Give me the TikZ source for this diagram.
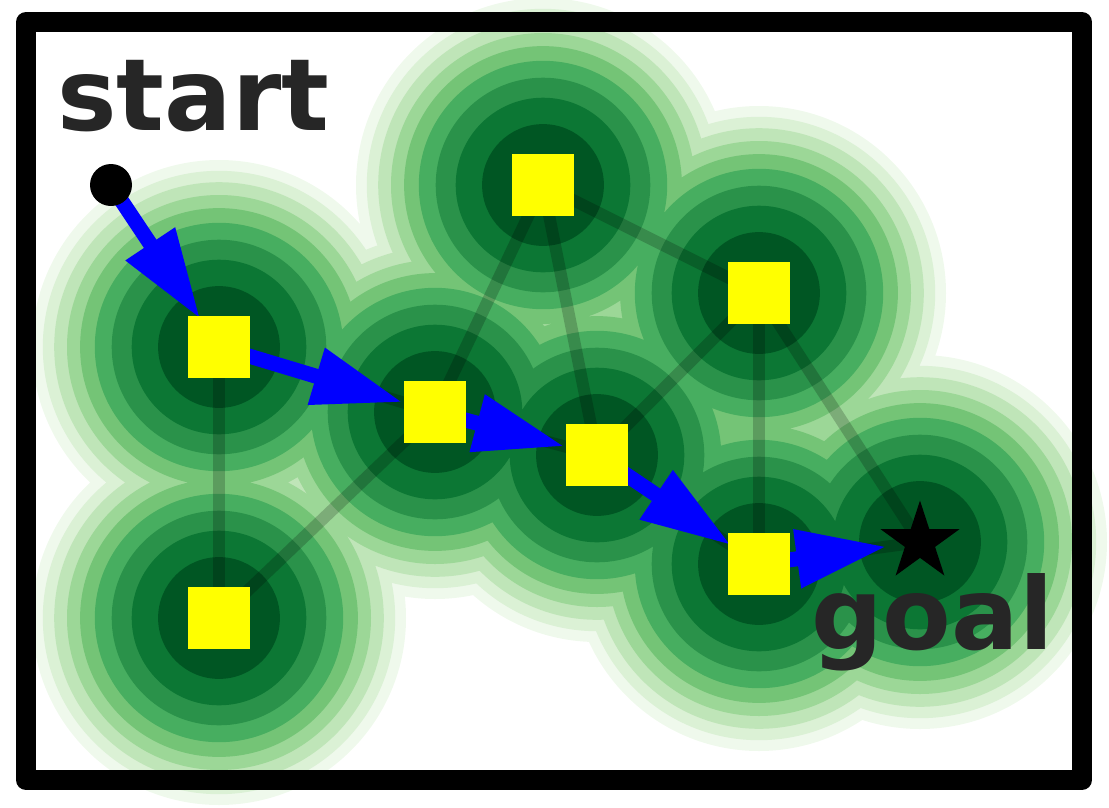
\documentclass[tikz,border=0pt]{standalone}
\usepackage{fontspec}
\setmainfont{DejaVu Sans}
\usetikzlibrary{calc}
\definecolor{gA}{HTML}{005623}
\definecolor{gB}{HTML}{0C7734}
\definecolor{gC}{HTML}{2A924A}
\definecolor{gD}{HTML}{47AE60}
\definecolor{gE}{HTML}{74C476}
\definecolor{gF}{HTML}{9CD797}
\definecolor{gG}{HTML}{BFE5B8}
\definecolor{gH}{HTML}{DBF1D5}
\definecolor{gI}{HTML}{EFF9EC}
\definecolor{txt}{HTML}{262626}
\definecolor{sqyellow}{RGB}{255,255,0}
\definecolor{arrblue}{RGB}{0,0,255}
\newcommand\bluearrow[2]{%
  \coordinate (T) at ($(#2)!36pt!(#1)$);
  \coordinate (H) at ($(T)!88pt!(#1)$);
  \coordinate (Hs) at ($(T)!86pt!(#1)$);
  \draw[arrowshaft] (#1) -- (Hs);
  \fill[arrblue] (T) -- ($(H)!30pt!90:(T)$) -- ($(H)!30pt!-90:(T)$) -- cycle;
}
\tikzset{
  edgeline/.style={line width=12pt, draw=black, draw opacity=0.2},
  arrowshaft/.style={line width=15pt, draw=arrblue},
  sq/.style={fill=sqyellow, minimum size=62pt, inner sep=0pt, outer sep=0pt},
  lbl/.style={font=\fontsize{100}{100}\selectfont\bfseries, text=txt, inner sep=0pt, anchor=base west}
}
\begin{document}
\begin{tikzpicture}[x=1pt,y=-1pt]
\useasboundingbox (0,0) rectangle (1109,807);
\clip (0,0) rectangle (1109,807);
\coordinate (start) at (111,185);
\coordinate (n1) at (219,347);
\coordinate (n2) at (435,412);
\coordinate (n3) at (543,185);
\coordinate (n4) at (597,455);
\coordinate (n5) at (759,293);
\coordinate (n6) at (759,564);
\coordinate (n7) at (219,618);
\coordinate (goal) at (920,542);
% contour bands (union of circles)
\foreach \r/\c in {187/gI,176.2/gH,164.8/gG,152/gF,138.9/gE,124.2/gD,107.3/gC,87.3/gB,60.9/gA}{
  \fill[\c] \foreach \p in {n1,n2,n3,n4,n5,n6,n7,goal}{ (\p) circle[radius=\r pt] };
}
% graph edges
\draw[edgeline] (n1) -- (n7);
\draw[edgeline] (n7) -- (n2);
\draw[edgeline] (n1) -- (n2);
\draw[edgeline] (n2) -- (n3);
\draw[edgeline] (n2) -- (n4);
\draw[edgeline] (n3) -- (n4);
\draw[edgeline] (n3) -- (n5);
\draw[edgeline] (n4) -- (n5);
\draw[edgeline] (n4) -- (n6);
\draw[edgeline] (n5) -- (n6);
\draw[edgeline] (n5) -- (goal);
\draw[edgeline] (n6) -- (goal);
% path arrows
\bluearrow{start}{n1}
\bluearrow{n1}{n2}
\bluearrow{n2}{n4}
\bluearrow{n4}{n6}
\bluearrow{n6}{goal}
% nodes
\foreach \p in {n1,n2,n3,n4,n5,n6,n7}{ \node[sq] (s\p) at (\p) {}; }
\fill[black] ($(goal)+(-90:41.5)$) -- ($(goal)+(-54:15.85)$) -- ($(goal)+(-18:41.5)$) -- ($(goal)+(18:15.85)$) -- ($(goal)+(54:41.5)$) -- ($(goal)+(90:15.85)$) -- ($(goal)+(126:41.5)$) -- ($(goal)+(162:15.85)$) -- ($(goal)+(198:41.5)$) -- ($(goal)+(234:15.85)$) -- cycle;
\fill[black] (start) circle[radius=21pt];
\node[lbl] (tstart) at (57,130) {start};
\node[lbl] (tgoal) at (811,649) {goal};
\draw[line width=20pt, line join=round] (26,22) rectangle (1082,780);
\end{tikzpicture}
\end{document}
